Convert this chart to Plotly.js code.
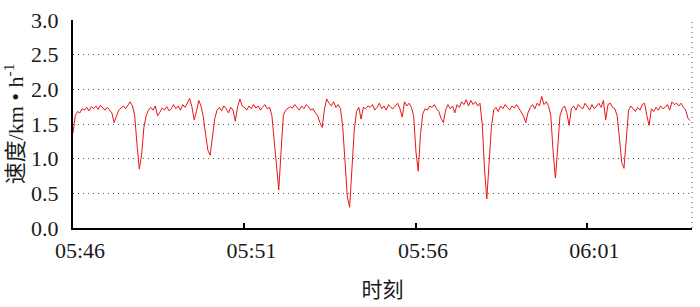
<!DOCTYPE html>
<html>
<head>
<meta charset="utf-8">
<script src="https://cdn.plot.ly/plotly-3.0.1.min.js"></script>
<style>html,body{margin:0;padding:0;background:#fff;}#chart{width:700px;height:307px;}</style>
</head>
<body>
<div id="chart"></div>
<script>
// Sampling: one reading every 4 s starting at 05:46:00
const startTime = "2020-01-01 05:46:00";
const stepSeconds = 4;

// Speed (km/h), one row per minute (15 readings each) + final reading
const speed = [
  1.37,1.62,1.68,1.66,1.72,1.70,1.74,1.69,1.75,1.72,1.76,1.71,1.77,1.73,1.70,
  1.74,1.70,1.66,1.52,1.60,1.70,1.73,1.76,1.72,1.78,1.82,1.76,1.62,1.20,0.85,
  1.05,1.45,1.62,1.70,1.74,1.70,1.76,1.62,1.67,1.73,1.70,1.75,1.69,1.72,1.78,
  1.72,1.76,1.70,1.78,1.74,1.80,1.87,1.75,1.56,1.68,1.84,1.76,1.60,1.35,1.12,
  1.05,1.30,1.58,1.70,1.74,1.69,1.76,1.72,1.66,1.74,1.70,1.54,1.75,1.86,1.76,
  1.74,1.70,1.76,1.72,1.78,1.73,1.76,1.70,1.75,1.78,1.72,1.74,1.62,1.25,0.80,
  0.55,1.10,1.62,1.70,1.72,1.75,1.73,1.78,1.74,1.70,1.76,1.72,1.78,1.75,1.70,
  1.72,1.66,1.62,1.52,1.45,1.72,1.86,1.80,1.76,1.82,1.74,1.78,1.72,1.45,0.95,
  0.45,0.30,0.80,1.40,1.68,1.74,1.57,1.74,1.72,1.76,1.74,1.78,1.70,1.74,1.80,
  1.72,1.76,1.70,1.78,1.74,1.72,1.76,1.80,1.72,1.60,1.82,1.76,1.80,1.74,1.62,
  1.10,0.82,1.35,1.65,1.72,1.70,1.76,1.74,1.78,1.72,1.68,1.58,1.52,1.70,1.78,
  1.72,1.76,1.66,1.78,1.74,1.82,1.78,1.85,1.76,1.84,1.78,1.82,1.76,1.80,1.50,
  0.85,0.42,1.00,1.45,1.70,1.74,1.68,1.76,1.72,1.78,1.74,1.70,1.76,1.73,1.78,
  1.72,1.68,1.62,1.52,1.66,1.74,1.78,1.72,1.80,1.76,1.90,1.78,1.82,1.76,1.62,
  1.10,0.72,1.15,1.62,1.72,1.76,1.66,1.48,1.72,1.76,1.70,1.78,1.74,1.72,1.80,
  1.74,1.70,1.78,1.72,1.76,1.80,1.74,1.84,1.56,1.78,1.80,1.74,1.72,1.62,1.30,
  0.95,0.86,1.30,1.70,1.76,1.72,1.68,1.74,1.70,1.78,1.80,1.62,1.48,1.72,1.68,
  1.74,1.70,1.76,1.72,1.74,1.78,1.70,1.82,1.78,1.80,1.76,1.80,1.74,1.70,1.58,
  1.55
];

const xTickVals = ["2020-01-01 05:46:00","2020-01-01 05:51:00","2020-01-01 05:56:00","2020-01-01 06:01:00"];
const xTickText = ["05:46","05:51","05:56","06:01"];
const xRange = ["2020-01-01 05:46:00","2020-01-01 06:04:03"];
const yTickVals = [0,0.5,1.0,1.5,2.0,2.5,3.0];
const yTickText = ["0.0","0.5","1.0","1.5","2.0","2.5","3.0"];

function pad(n){return (n<10?"0":"")+n;}
const t0 = new Date(startTime.replace(" ","T")+"Z").getTime();
const times = speed.map((_,i)=>{
  const d = new Date(t0 + i*stepSeconds*1000);
  return "2020-01-01 "+pad(d.getUTCHours())+":"+pad(d.getUTCMinutes())+":"+pad(d.getUTCSeconds());
});

const serif = "Liberation Serif, Noto Sans CJK SC";

const trace = {
  x: times, y: speed, type: "scatter", mode: "lines",
  line: {color: "rgb(235,20,20)", width: 1},
  hoverinfo: "skip"
};

const layout = {
  width: 700, height: 307,
  margin: {l: 73, r: 8, t: 20, b: 79},
  paper_bgcolor: "#fff", plot_bgcolor: "#fff",
  showlegend: false,
  font: {family: serif, color: "#000", size: 22},
  xaxis: {
    type: "date", range: xRange,
    tickmode: "array", tickvals: xTickVals, ticktext: xTickText,
    ticks: "inside", ticklen: 5, tickwidth: 2, tickcolor: "#000",
    ticklabelshift: 7, ticklabelstandoff: 2,
    showline: true, linecolor: "#000", linewidth: 2,
    showgrid: false, zeroline: false,
    tickfont: {family: serif, size: 22, color: "#1a1a1a"},
    title: {text: "时刻", font: {family: serif, size: 21, color: "#1a1a1a"}, standoff: 20}
  },
  xaxis2: {
    type: "date", range: xRange, overlaying: "x", side: "top", matches: "x",
    dtick: 60000, tick0: "2020-01-01 05:46:00",
    ticks: "inside", ticklen: 3, tickwidth: 1, tickcolor: "#444",
    showticklabels: false, showline: false, showgrid: false, zeroline: false
  },
  yaxis: {
    range: [0, 3.0],
    tickmode: "array", tickvals: yTickVals, ticktext: yTickText,
    ticks: "", showline: true, linecolor: "#000", linewidth: 2,
    showgrid: true, gridcolor: "#555", gridwidth: 1, griddash: "1px,4px",
    zeroline: false,
    tickfont: {family: serif, size: 22, color: "#1a1a1a"},
    ticklabelstandoff: 8,
    title: {text: "速度/km • h<sup>-1</sup>", font: {family: serif, size: 22, color: "#1a1a1a"}, standoff: 5}
  },
  shapes: [
    {type: "line", xref: "paper", yref: "paper", x0: 1, x1: 1, y0: 0, y1: 1,
     line: {color: "#555", width: 1, dash: "1px,4px"}}
  ]
};

Plotly.newPlot("chart", [trace], layout, {staticPlot: true, displayModeBar: false});
</script>
</body>
</html>
